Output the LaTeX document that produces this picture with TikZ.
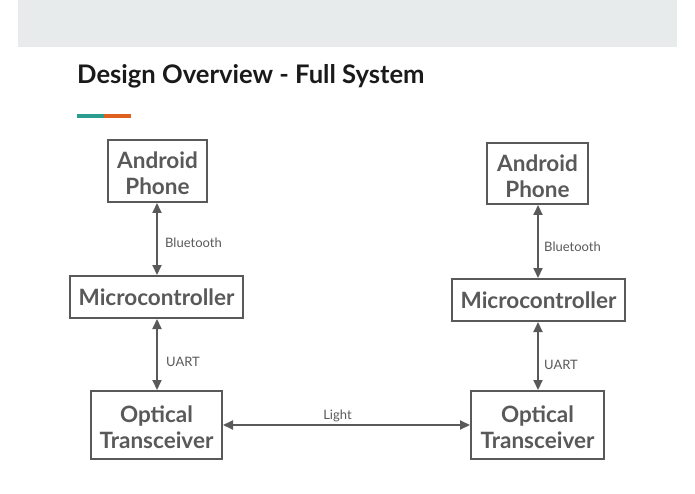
\documentclass[tikz,border=0pt]{standalone}
\usepackage{fontspec}
\setmainfont{Lato}
\usetikzlibrary{arrows.meta}
\definecolor{band}{HTML}{E8EBEC}
\definecolor{boxgray}{HTML}{595959}
\definecolor{teal}{HTML}{2A9D8F}
\definecolor{orng}{HTML}{E0601E}
\definecolor{titlec}{HTML}{1A1A1A}
\newcommand\topstrut{\rule{0pt}{21.5pt}}
\tikzset{
  blk/.style={draw=boxgray, line width=2pt, text=boxgray, font=\fontsize{22.5}{26}\selectfont\bfseries, align=center, inner sep=0pt, minimum height=#1},
  blk/.default=42pt,
  conn/.style={draw=boxgray, line width=2pt, {Triangle[length=10pt,width=9pt]}-{Triangle[length=10pt,width=9pt]}},
  lbl/.style={text=boxgray, font=\fontsize{13}{15}\selectfont, inner sep=0pt, anchor=west}
}
\begin{document}
\begin{tikzpicture}[x=1pt,y=-1pt]
\useasboundingbox (0,0) rectangle (695,494);
\fill[band] (18,0) rectangle (677,47);
\node[anchor=base west, inner sep=0pt, text=titlec, font=\fontsize{25.6}{28}\selectfont\bfseries] (title) at (77,84) {Design Overview - Full System};
\fill[teal] (77,114.5) rectangle (104,118.5);
\fill[orng] (104,114.5) rectangle (131,118.5);
% left column
\node[blk=62pt, minimum width=99pt] (ap1) at (157.5,171) {\topstrut Android\\Phone};
\node[blk, minimum width=173pt] (mc1) at (156.5,297) {Microcontroller};
\node[blk=68pt, minimum width=131pt] (ot1) at (156.5,425) {\topstrut Optical\\Transceiver};
% right column
\node[blk=61pt, minimum width=101pt] (ap2) at (537.5,173.5) {\topstrut Android\\Phone};
\node[blk, minimum width=173pt] (mc2) at (538.5,300) {Microcontroller};
\node[blk=68pt, minimum width=133pt] (ot2) at (537.5,425) {\topstrut Optical\\Transceiver};
% connectors
\draw[conn] (ap1.south -| 157,0) -- (mc1.north -| 157,0);
\draw[conn] (mc1.south -| 157,0) -- (ot1.north -| 157,0);
\draw[conn] (ap2.south -| 538,0) -- (mc2.north -| 538,0);
\draw[conn] (mc2.south -| 538,0) -- (ot2.north -| 538,0);
\draw[conn] (ot1.east) -- (ot2.west);
% labels
\node[lbl] (l1) at (165,242.5) {Bluetooth};
\node[lbl] (l2) at (166,361.5) {UART};
\node[lbl] (l3) at (544,246.5) {Bluetooth};
\node[lbl] (l4) at (544,364.5) {UART};
\node[lbl, anchor=center] (l5) at (337.5,415.5) {Light};
\end{tikzpicture}
\end{document}
